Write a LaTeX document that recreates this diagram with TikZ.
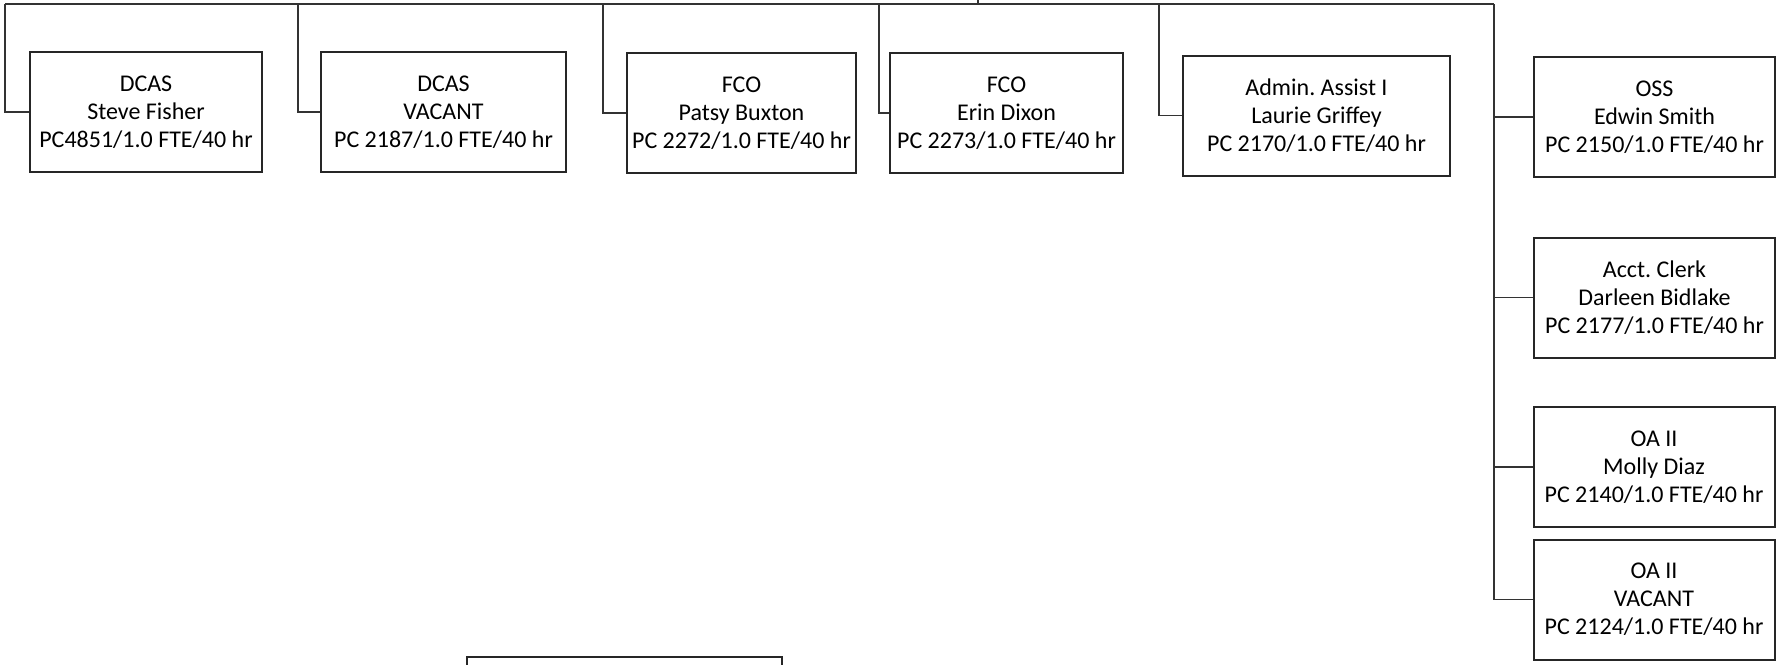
\documentclass[tikz,border=0pt]{standalone}
\usepackage{fontspec}
\setmainfont{Carlito}
\frenchspacing

\begin{document}
\begin{tikzpicture}[ x=0.5pt, y=-0.5pt, font=\fontsize{12}{14}\selectfont,
      post/.style={ draw=black!85, line width=1pt, align=center,
      inner sep=0pt, minimum height=60pt }, link/.style={ draw=black!80,
      line width=0.9pt } ]

    \useasboundingbox (0,0) rectangle (1776,664);
    \clip (0,0) rectangle (1776,664);

    % top row
    \node[post, minimum width=116pt] (dcasA) at (146,112) {DCAS\\
      Steve Fisher\\
      PC4851/1.0 FTE/40 hr};
    \node[post, minimum width=122.5pt] (dcasB) at (443.5,112) {DCAS\\
      VACANT\\
      PC 2187/1.0 FTE/40 hr};
    \node[post, minimum width=114.5pt] (fcoA) at (741.5,113) {FCO\\
      Patsy Buxton\\
      PC 2272/1.0 FTE/40 hr};
    \node[post, minimum width=116.5pt] (fcoB) at (1006.5,113) {FCO\\
      Erin Dixon\\
      PC 2273/1.0 FTE/40 hr};
    \node[post, minimum width=133.5pt] (admin) at (1316.5,115.5) {Admin.
      Assist I\\
      Laurie Griffey\\
      PC 2170/1.0 FTE/40 hr};

    % right column
    \node[post, minimum width=120.5pt] (oss) at (1654.5,117) {OSS\\
      Edwin Smith\\
      PC 2150/1.0 FTE/40 hr};
    \node[post, minimum width=120.5pt] (clerk) at (1654.5,297.5) {Acct.
      Clerk\\
      Darleen Bidlake\\
      PC 2177/1.0 FTE/40 hr};
    \node[post, minimum width=120.5pt] (oaA) at (1654,467) {OA II\\
      Molly Diaz\\
      PC 2140/1.0 FTE/40 hr};
    \node[post, minimum width=120.5pt] (oaB) at (1654,599.5) {OA II\\
      VACANT\\
      PC 2124/1.0 FTE/40 hr};

    % cut off at the bottom
    \node[post, minimum width=157.5pt, anchor=north] (lower) at (624.5,656)
      {};

    % bus
    \coordinate (boss) at (978,-4);
    \coordinate (busL) at (5,4);
    \coordinate (busR) at (1494,4);
    \coordinate (dropB) at (298,4);
    \coordinate (dropC) at (603,4);
    \coordinate (dropD) at (879,4);
    \coordinate (dropE) at (1159,4);

    \draw[link] (boss) -- (boss |- busL);
    \draw[link] (busL) -- (busR);
    \draw[link] (busL) |- (dcasA.west);
    \draw[link] (dropB) |- (dcasB.west);
    \draw[link] (dropC) |- (fcoA.west);
    \draw[link] (dropD) |- (fcoB.west);
    \draw[link] (dropE) |- (admin.west);
    \draw[link] (busR) |- (oss.west);
    \draw[link] (busR) |- (clerk.west);
    \draw[link] (busR) |- (oaA.west);
    \draw[link] (busR) |- (oaB.west);

  \end{tikzpicture}
\end{document}
